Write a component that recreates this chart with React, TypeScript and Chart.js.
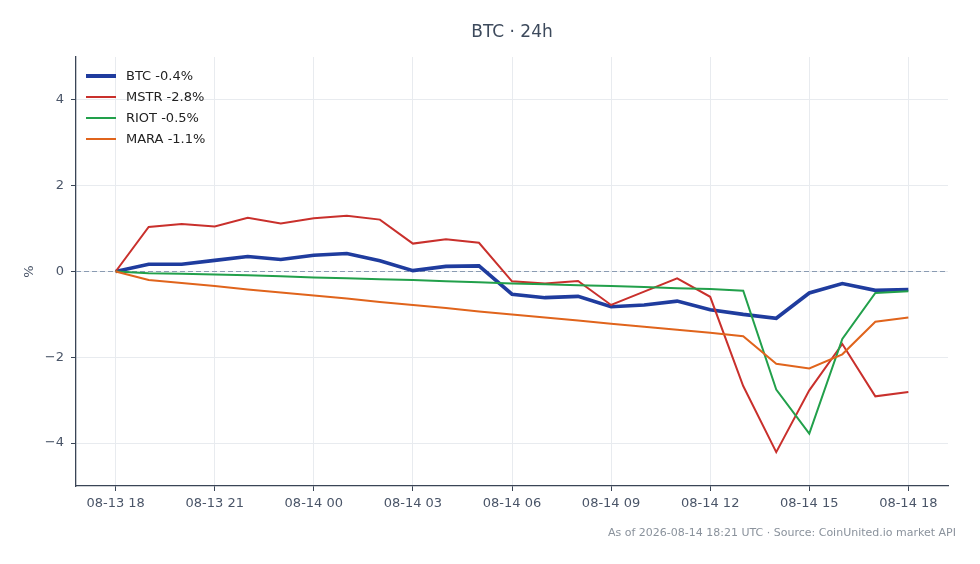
import { useEffect, useRef } from "react";
import { Chart, registerables } from "chart.js";

Chart.register(...registerables);

const hourLabels = [
  "08-13 18", "08-13 19", "08-13 20", "08-13 21", "08-13 22", "08-13 23",
  "08-14 00", "08-14 01", "08-14 02", "08-14 03", "08-14 04", "08-14 05",
  "08-14 06", "08-14 07", "08-14 08", "08-14 09", "08-14 10", "08-14 11",
  "08-14 12", "08-14 13", "08-14 14", "08-14 15", "08-14 16", "08-14 17",
  "08-14 18",
];
const xTickHours = [0, 3, 6, 9, 12, 15, 18, 21, 24];
const yTicks = [-4, -2, 0, 2, 4];

const btc = [
  0, 0.17, 0.17, 0.26, 0.35, 0.28, 0.38, 0.42, 0.25, 0.02, 0.12, 0.13,
  -0.53, -0.61, -0.58, -0.82, -0.78, -0.69, -0.89, -1.0, -1.09, -0.5, -0.28, -0.44, -0.42,
];
const mstr = [
  0, 1.04, 1.11, 1.05, 1.25, 1.12, 1.24, 1.3, 1.21, 0.65, 0.75, 0.67,
  -0.23, -0.28, -0.22, -0.78, -0.47, -0.16, -0.59, -2.67, -4.21, -2.77, -1.69, -2.91, -2.81,
];
const riot = [
  0, -0.04, -0.05, -0.07, -0.09, -0.11, -0.14, -0.16, -0.18, -0.2, -0.23, -0.25,
  -0.28, -0.3, -0.32, -0.34, -0.36, -0.39, -0.41, -0.45, -2.75, -3.78, -1.57, -0.5, -0.46,
];
const mara = [
  0, -0.2, -0.27, -0.34, -0.42, -0.49, -0.56, -0.63, -0.71, -0.78, -0.85, -0.93,
  -1.0, -1.07, -1.14, -1.22, -1.29, -1.36, -1.43, -1.51, -2.15, -2.26, -1.93, -1.17, -1.07,
];

const seriesNames = ["BTC -0.4%", "MSTR -2.8%", "RIOT -0.5%", "MARA -1.1%"];
const seriesColors = ["#1f3c9e", "#c9302c", "#22a04b", "#e0641c"];
const seriesWidths = [3.6, 2, 2, 2];
const seriesValues = [btc, mstr, riot, mara];

const FONT = "'DejaVu Sans', sans-serif";
const TICK = "#4a5568";

// dashed reference line at 0, under the series
const zeroLine = {
  id: "zeroLine",
  beforeDatasetsDraw(chart: any) {
    const { ctx, chartArea, scales } = chart;
    const y = scales.y.getPixelForValue(0);
    ctx.save();
    ctx.strokeStyle = "#8a9bb2";
    ctx.lineWidth = 1;
    ctx.setLineDash([5, 3]);
    ctx.beginPath();
    ctx.moveTo(chartArea.left, y);
    ctx.lineTo(chartArea.right, y);
    ctx.stroke();
    ctx.restore();
  },
};

export default function App() {
  const canvasRef = useRef<HTMLCanvasElement | null>(null);

  useEffect(() => {
    if (!canvasRef.current) return;
    const datasets = seriesValues.map((vals, k) => ({
      label: seriesNames[k],
      data: vals.map((y, i) => ({ x: i, y })),
      borderColor: seriesColors[k],
      backgroundColor: seriesColors[k],
      borderWidth: seriesWidths[k],
      pointRadius: 0,
      tension: 0,
      fill: false,
      order: 3 - k, // BTC at the bottom, MARA on top
    }));
    const chart = new Chart(canvasRef.current, {
      type: "line",
      data: { datasets: datasets as any },
      options: {
        animation: false,
        responsive: false,
        layout: { padding: { top: 57, right: 32, left: 0, bottom: 0 } },
        plugins: { legend: { display: false }, tooltip: { enabled: false } },
        scales: {
          x: {
            type: "linear",
            min: -1.2,
            max: 25.2,
            afterBuildTicks: (s: any) => {
              s.ticks = xTickHours.map((v) => ({ value: v }));
            },
            afterFit: (s: any) => {
              s.height = 78;
            },
            ticks: {
              callback: (v: any) => hourLabels[v] ?? "",
              color: TICK,
              font: { family: FONT, size: 13 },
              padding: 5,
              maxRotation: 0,
              autoSkip: false,
            },
            grid: { color: "#e8ebef", tickColor: "#3a4556", tickLength: 5, lineWidth: 1 },
            border: { color: "#3a4556", width: 1.3 },
          },
          y: {
            min: -5,
            max: 5,
            afterBuildTicks: (s: any) => {
              s.ticks = yTicks.map((v) => ({ value: v }));
            },
            afterFit: (s: any) => {
              s.width = 76;
            },
            ticks: {
              callback: (v: any) => (v < 0 ? "\u2212" + Math.abs(v) : String(v)),
              color: TICK,
              font: { family: FONT, size: 13 },
              padding: 7,
            },
            grid: { color: "#e8ebef", tickColor: "#3a4556", tickLength: 5, lineWidth: 1 },
            border: { color: "#3a4556", width: 1.3 },
            title: {
              display: true,
              text: "%",
              color: TICK,
              font: { family: FONT, size: 13 },
              padding: { top: 22, bottom: 0 },
            },
          },
        },
      },
      plugins: [zeroLine],
    });
    return () => chart.destroy();
  }, []);

  return (
    <div style={{ position: "fixed", left: 0, top: 0, width: 980, height: 564, background: "#fff", fontFamily: FONT }}>
      <canvas ref={canvasRef} width={980} height={564} style={{ position: "absolute", left: 0, top: 0 }} />
      <div
        style={{
          position: "absolute",
          left: 512,
          top: 20,
          transform: "translateX(-50%)",
          fontSize: 17,
          color: "#3d4a5c",
          whiteSpace: "nowrap",
          lineHeight: "22px",
        }}
      >
        BTC · 24h
      </div>
      <div style={{ position: "absolute", left: 86, top: 65 }}>
        {seriesNames.map((name, k) => (
          <div key={name} style={{ display: "flex", alignItems: "center", height: 21, fontSize: 13, color: "#222" }}>
            <div style={{ width: 30, height: seriesWidths[k] > 3 ? 4 : 2, background: seriesColors[k], marginRight: 10 }} />
            <span>{name}</span>
          </div>
        ))}
      </div>
      <div
        style={{
          position: "absolute",
          right: 24,
          top: 526,
          fontSize: 11,
          color: "#8a929c",
          whiteSpace: "nowrap",
          lineHeight: "14px",
        }}
      >
        As of 2026-08-14 18:21 UTC · Source: CoinUnited.io market API
      </div>
    </div>
  );
}
